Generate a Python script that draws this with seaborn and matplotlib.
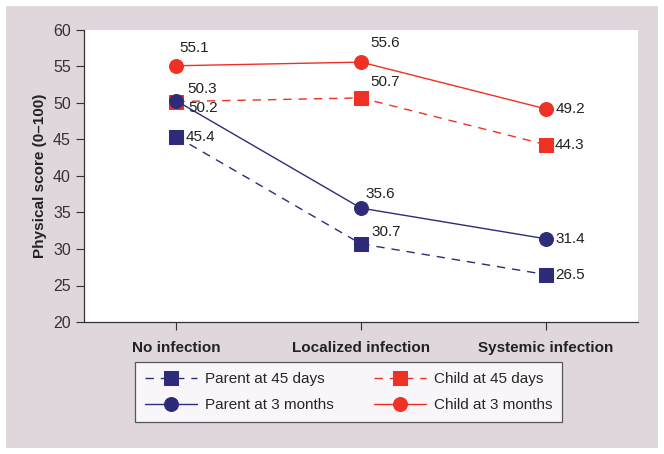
import numpy as np
import pandas as pd
import matplotlib.pyplot as plt
import matplotlib.patches as mpatches
import seaborn as sns

sns.set_style("white")
plt.rcParams['font.family'] = ['Liberation Sans', 'DejaVu Sans']

# data
groups = ["No infection", "Localized infection", "Systemic infection"]
parent_45d = [45.4, 30.7, 26.5]
child_45d = [50.2, 50.7, 44.3]
parent_3m = [50.3, 35.6, 31.4]
child_3m = [55.1, 55.6, 49.2]
yticks = [20, 25, 30, 35, 40, 45, 50, 55, 60]

navy = "#2e2c7a"
red = "#ee3124"

fig = plt.figure(figsize=(6.64, 4.54), dpi=100, facecolor="white")
fig.patches.append(mpatches.Rectangle((6 / 664, 6 / 454), 652 / 664, 442 / 454,
                                      transform=fig.transFigure, facecolor="#e0d7dd",
                                      edgecolor="none", zorder=-10))
ax = fig.add_axes([84 / 664, 1 - 322 / 454, 554 / 664, 292 / 454])
ax.set_facecolor("white")

# name, values, colour, marker, dashes, zorder
series = [
    ("Parent at 45 days", parent_45d, navy, "s", (6, 5), 3),
    ("Parent at 3 months", parent_3m, navy, "o", "", 5),
    ("Child at 45 days", child_45d, red, "s", (6, 5), 2),
    ("Child at 3 months", child_3m, red, "o", "", 4),
]

for name, vals, col, mk, dash, z in series:
    df = pd.DataFrame({"group": groups, "score": vals})
    sns.lineplot(data=df, x="group", y="score", ax=ax, color=col, marker=mk,
                 markersize=10 if mk == "o" else 9.5, markeredgecolor=col,
                 linewidth=1, dashes=False, label=name, sort=False, zorder=z)
    line = ax.lines[-1]
    if dash:
        line.set_dashes(dash)

# value labels (offset in pixels from marker)
offsets = {
    "Parent at 45 days": [(9, 0), (10, 12), (10, 0)],
    "Parent at 3 months": [(11, 12), (4, 14), (10, 0)],
    "Child at 45 days": [(12, -6), (9, 16), (9, 0)],
    "Child at 3 months": [(3, 18), (9, 19), (10, 0)],
}
for name, vals, col, mk, dash, z in series:
    for i, v in enumerate(vals):
        dx, dy = offsets[name][i]
        ax.annotate(f"{v:.1f}", (i, v), xytext=(dx, dy), textcoords="offset pixels",
                    ha="left", va="center", fontsize=11, color="#222222", zorder=6)

ax.set_xlim(-0.5, 2.5)
ax.set_ylim(20, 60)
ax.set_yticks(yticks)
ax.set_xticks(range(len(groups)))
ax.set_xticklabels(groups, fontweight="bold", fontsize=11, color="#222222")
ax.tick_params(axis="y", labelsize=11.5, labelcolor="#333333", length=6, width=0.8,
               direction="out", left=True, color="#333333")
ax.tick_params(axis="x", length=6, width=0.8, direction="out", bottom=True,
               color="#333333", pad=8)
ax.set_xlabel("")
ax.set_ylabel("Physical score (0\u2013100)", fontweight="bold", fontsize=11, color="#222222")
for s in ["top", "right"]:
    ax.spines[s].set_visible(False)
for s in ["left", "bottom"]:
    ax.spines[s].set_color("#333333")
    ax.spines[s].set_linewidth(0.9)

handles, labels = ax.get_legend_handles_labels()
ax.get_legend().remove()
leg = fig.legend(handles, labels, ncol=2, loc="lower left",
                 bbox_to_anchor=(135 / 664, 1 - 422 / 454, 427 / 664, 60 / 454),
                 mode="expand", fontsize=11, frameon=True, fancybox=False,
                 edgecolor="#333333", handlelength=3.4, borderaxespad=0,
                 borderpad=0.65, columnspacing=1.5, labelspacing=0.8,
                 handletextpad=0.5)
leg.get_frame().set_linewidth(0.9)
leg._legend_box.align = "left"

fig.savefig("out.png", dpi=100, facecolor=fig.get_facecolor())
